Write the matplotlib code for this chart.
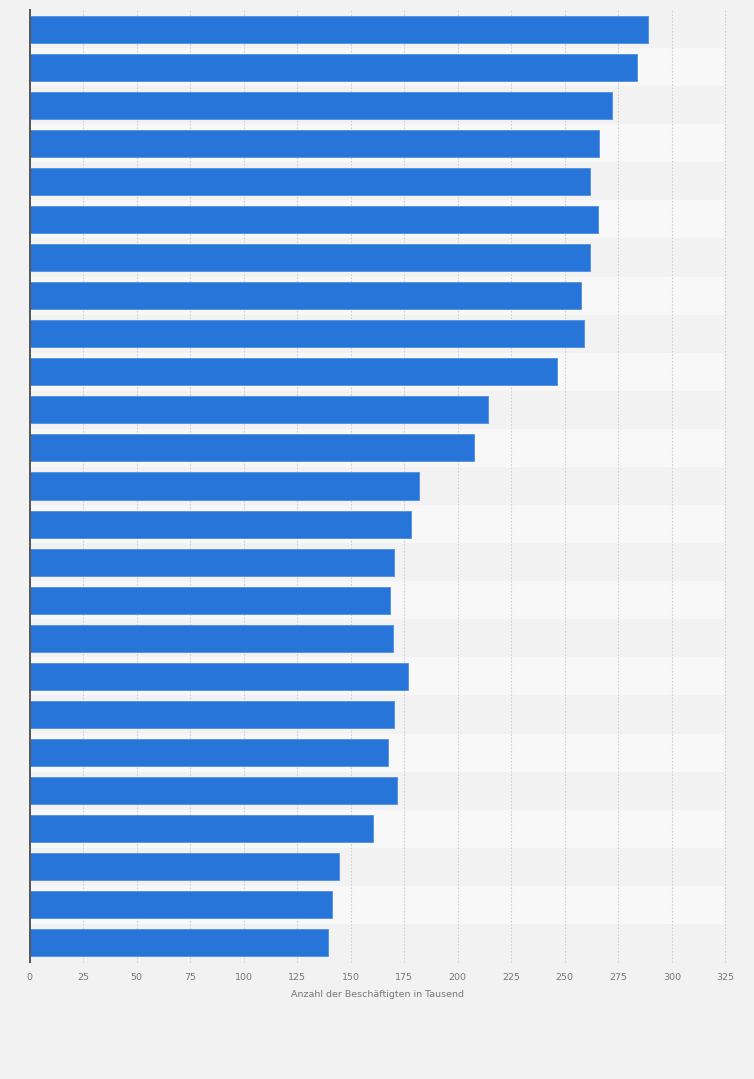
import numpy as np
import matplotlib.pyplot as plt

# Beschäftigte in Tausend, von oben nach unten
values = [288.7, 283.6, 271.9, 265.9, 261.8, 265.4, 261.8, 257.4, 258.8, 246.2,
          214.0, 207.4, 182.0, 178.3, 170.4, 168.5, 169.6, 176.6, 170.4, 167.5,
          171.5, 160.5, 144.7, 141.4, 139.5]
x_ticks = np.arange(0, 326, 25)
x_label = 'Anzahl der Beschäftigten in Tausend'

bg = '#f2f2f2'
fig = plt.figure(figsize=(7.54, 10.79), dpi=100, facecolor=bg)
ax = fig.add_axes([29.7/754, 1-962/1079, (725.3-29.7)/754, (962-10)/1079])
ax.set_facecolor(bg)

n = len(values)
pos = np.arange(n)

# alternating row bands
for i in pos:
    ax.axhspan(i-0.5, i+0.5, color='#f2f2f2' if i % 2 == 0 else '#f8f8f8', lw=0, zorder=0)

ax.barh(pos, values, height=0.71, color='#2775d9', edgecolor='#4f8fe3', linewidth=0.6, zorder=3)

ax.set_xlim(0, 325)
ax.set_ylim(n-0.5, -0.5)
ax.set_yticks([])
ax.set_xticks(x_ticks)
ax.xaxis.grid(True, color='#cfcfcf', linestyle=(0, (1.5, 1.5)), linewidth=0.8, zorder=1)
for gl in ax.get_xgridlines():
    gl.set_clip_on(False)
ax.set_axisbelow(True)
ax.tick_params(axis='x', length=0, pad=8, labelsize=6.8, labelcolor='#777777')
ax.set_xlabel(x_label, fontsize=6.8, color='#777777', labelpad=6)

for s in ['top', 'right', 'bottom']:
    ax.spines[s].set_visible(False)
ax.spines['left'].set_color('#555555')
ax.spines['left'].set_linewidth(1.4)
ax.spines['left'].set_zorder(5)

plt.savefig('out.png', dpi=100, facecolor=bg)
